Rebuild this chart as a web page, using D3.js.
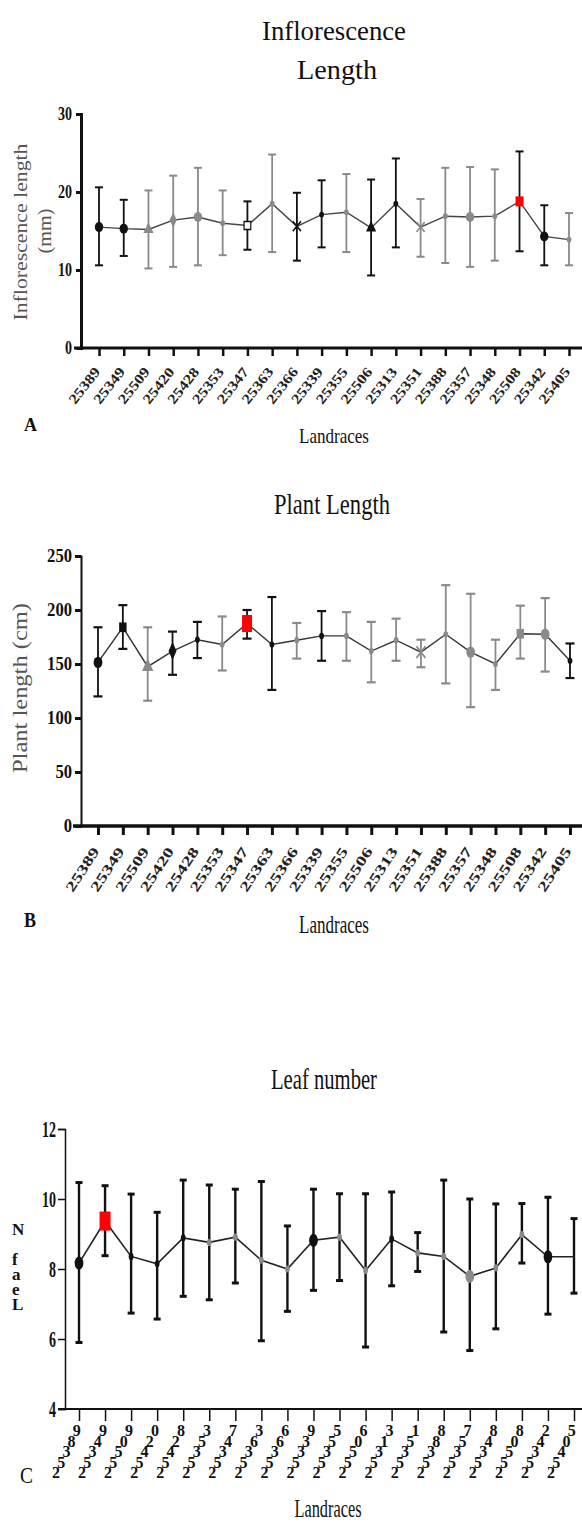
<!DOCTYPE html>
<html>
<head>
<meta charset="utf-8">
<script src="https://cdn.jsdelivr.net/npm/d3@7"></script>
<style>
  body { margin: 0; background: #fff; }
  svg { display: block; font-family: "Liberation Serif", "Times New Roman", serif; }
</style>
</head>
<body>
<div id="chart"></div>
<script>
// landraces on the x axis (same order in all three panels)
const landraces = ["25389", "25349", "25509", "25420", "25428", "25353", "25347", "25363", "25366", "25339",
  "25355", "25506", "25313", "25351", "25388", "25357", "25348", "25508", "25342", "25405"];

// A - inflorescence length (mm): mean, top and bottom of error bar
const inflMean = [15.5, 15.3, 15.2, 16.4, 16.8, 16.0, 15.7, 18.5, 15.6, 17.1, 17.4, 15.4, 18.5, 15.5, 16.9, 16.8, 16.9, 18.8, 14.3, 13.9];
const inflUpper = [20.6, 19.0, 20.2, 22.1, 23.1, 20.2, 18.8, 24.8, 19.9, 21.5, 22.3, 21.6, 24.3, 19.1, 23.1, 23.2, 22.9, 25.2, 18.3, 17.3];
const inflLower = [10.6, 11.8, 10.2, 10.4, 10.6, 11.9, 12.6, 12.3, 11.2, 12.9, 12.3, 9.3, 12.9, 11.7, 10.9, 10.4, 11.2, 12.4, 10.6, 10.6];
const inflTicks = [0, 10, 20, 30];

// B - plant length (cm)
const plantMean = [151.5, 184, 147.5, 162, 172.5, 168, 187.5, 168, 172, 176, 176, 162, 172, 161, 177.5, 161, 150, 178, 177.5, 153];
const plantUpper = [184, 204.5, 184, 180, 189, 194, 200, 212, 188, 199, 198, 189, 192, 172.5, 223, 215, 172.5, 204, 211, 169];
const plantLower = [120, 164, 116, 140, 155.5, 144, 173.5, 126, 155, 153, 153, 133, 153, 147, 132, 110, 126, 155, 143, 137];
const plantTicks = [0, 50, 100, 150, 200, 250];

// C - leaf number
const leafMean = [8.17, 9.37, 8.36, 8.15, 8.89, 8.76, 8.91, 8.25, 8.0, 8.82, 8.91, 7.96, 8.86, 8.46, 8.36, 7.79, 8.03, 8.98, 8.35, 8.35];
const leafUpper = [10.47, 10.38, 10.14, 9.62, 10.54, 10.4, 10.28, 10.5, 9.23, 10.28, 10.15, 10.15, 10.2, 9.04, 10.54, 10.0, 9.86, 9.87, 10.05, 9.44];
const leafLower = [5.9, 8.38, 6.74, 6.57, 7.22, 7.12, 7.6, 5.95, 6.79, 7.39, 7.67, 5.77, 7.52, 7.93, 6.2, 5.67, 6.29, 8.17, 6.71, 7.31];
const leafTicks = [4, 6, 8, 10, 12];

// marker look per point (style only)
const inflShapes = ["circle", "circle", "triangle", "diamond", "circle", "dot", "hsquare", "dot", "times", "dot",
  "dot", "triangle", "dot", "times", "dot", "circle", "dot", "red", "circle", "dot"];
const inflTones = ["k", "k", "g", "g", "g", "g", "k", "g", "k", "k", "g", "k", "k", "g", "g", "g", "g", "k", "k", "g"];
const plantShapes = ["circle", "square", "triangle", "diamond", "dot", "dot", "red", "dot", "dot", "dot",
  "dot", "dot", "dot", "times", "dot", "circle", "dot", "square", "circle", "dot"];
const plantTones = ["k", "k", "g", "k", "k", "g", "k", "k", "g", "k", "g", "g", "g", "g", "g", "g", "g", "g", "g", "k"];
const leafShapes = ["circle", "red", "dot", "dot", "dot", "dot", "dot", "dot", "dot", "circle",
  "dot", "dot", "dot", "dot", "dot", "circle", "dot", "dot", "circle", "none"];
const leafTones = ["k", "k", "k", "k", "k", "g", "g", "g", "g", "k", "g", "g", "k", "g", "g", "g", "g", "g", "k", "k"];

const toneColor = { k: "#111", g: "#8a8a8a" };
const W = 582, H = 1525;

const svg = d3.select("#chart").append("svg")
  .attr("width", W)
  .attr("height", H);

// text helper: font size sets the height, textLength squeezes the width (picture is stretched tall)
function label(sel, txt, o) {
  const t = sel.append("text")
    .attr("x", o.x)
    .attr("y", o.y)
    .attr("font-size", o.size)
    .attr("font-weight", o.bold ? "bold" : "normal")
    .attr("fill", o.color || "#111")
    .attr("text-anchor", o.anchor || "middle")
    .text(txt);
  if (o.len) t.attr("textLength", o.len).attr("lengthAdjust", "spacingAndGlyphs");
  if (o.rotate) t.attr("transform", `rotate(${o.rotate},${o.x},${o.y})`);
  return t;
}

// one text element whose glyphs stay upright but step along a diagonal
function stepped(sel, txt, x0, y0, dx, dy, size) {
  const chars = txt.split("");
  return sel.append("text")
    .attr("x", chars.map((c, j) => (x0 + j * dx).toFixed(1)).join(" "))
    .attr("y", chars.map((c, j) => (y0 - j * dy).toFixed(1)).join(" "))
    .attr("font-size", size)
    .attr("font-weight", "bold")
    .attr("fill", "#111")
    .text(txt);
}

function drawPanel(p) {
  const g = svg.append("g");
  const x = d3.scalePoint().domain(landraces).range(p.xRange);
  const y = d3.scaleLinear().domain(p.yDomain).range(p.yRange);

  // y axis
  const ya = g.append("g")
    .attr("transform", `translate(${p.axisX},0)`)
    .call(d3.axisLeft(y).tickValues(p.yTicks).tickSizeOuter(0).tickSize(p.yTickLen).tickPadding(p.yTickPad));
  ya.attr("font-family", null);
  ya.select(".domain").attr("stroke", "#111").attr("stroke-width", p.yAxisW);
  ya.selectAll(".tick line").attr("stroke", "#111").attr("stroke-width", p.yTickW);
  ya.selectAll(".tick text")
    .attr("font-size", p.yFont)
    .attr("font-weight", "bold")
    .attr("fill", "#111")
    .attr("textLength", (d) => String(d).length * p.digitW)
    .attr("lengthAdjust", "spacingAndGlyphs");

  // x axis
  const xa = g.append("g")
    .attr("transform", `translate(0,${p.xAxisY})`)
    .call(d3.axisBottom(x).tickSizeOuter(0).tickSize(p.xTickLen).tickFormat(() => ""));
  xa.select(".domain")
    .attr("d", `M${p.xAxisStart},0H${W}`)
    .attr("stroke", "#111")
    .attr("stroke-width", p.xAxisW);
  xa.selectAll(".tick line").attr("stroke", "#111").attr("stroke-width", p.xTickW);

  // x tick labels
  if (p.stacked) {
    landraces.forEach((lab) => {
      stepped(g, lab, x(lab) - 27, p.xAxisY + 69, 5.2, 10.5, 16);
    });
  } else {
    landraces.forEach((lab) => {
      label(g, lab, {
        x: x(lab) + 2, y: p.xAxisY + p.labelDrop,
        size: 14, bold: true, anchor: "end", len: p.labelLen,
        rotate: -p.labelAngle, color: "#222"
      });
    });
  }

  // error bars
  const bars = g.append("g");
  landraces.forEach((lab, i) => {
    const cx = x(lab);
    const col = p.barColor || toneColor[p.tones[i]];
    bars.append("line")
      .attr("x1", cx).attr("x2", cx)
      .attr("y1", y(p.upper[i])).attr("y2", y(p.lower[i]))
      .attr("stroke", col).attr("stroke-width", p.barW);
    [p.upper[i], p.lower[i]].forEach((v) => {
      bars.append("line")
        .attr("x1", cx - p.capW / 2).attr("x2", cx + p.capW / 2)
        .attr("y1", y(v)).attr("y2", y(v))
        .attr("stroke", col).attr("stroke-width", p.capH);
    });
  });

  // connecting line
  g.append("path")
    .datum(p.mean)
    .attr("fill", "none")
    .attr("stroke", p.lineColor)
    .attr("stroke-width", p.lineW)
    .attr("d", d3.line().x((d, i) => x(landraces[i])).y((d) => y(d)));

  // markers
  const symbols = {
    circle: d3.symbolCircle, triangle: d3.symbolTriangle, diamond: d3.symbolDiamond,
    square: d3.symbolSquare, hsquare: d3.symbolSquare, times: d3.symbolTimes
  };
  landraces.forEach((lab, i) => {
    const cx = x(lab), cy = y(p.mean[i]);
    const shape = p.shapes[i];
    const col = toneColor[p.tones[i]];
    if (shape === "none") return;
    if (shape === "red") {
      g.append("rect")
        .attr("x", cx - p.redW / 2).attr("y", cy - p.redH / 2)
        .attr("width", p.redW).attr("height", p.redH)
        .attr("fill", "#f00");
      return;
    }
    if (shape === "dot") {
      g.append("ellipse")
        .attr("cx", cx).attr("cy", cy)
        .attr("rx", 2.4).attr("ry", 2.4 * p.stretch)
        .attr("fill", col);
      return;
    }
    const size = shape === "circle" ? p.circleSize : p.symSize;
    const path = g.append("path")
      .attr("d", d3.symbol(symbols[shape], size)())
      .attr("transform", `translate(${cx},${cy}) scale(1,${p.stretch})`);
    if (shape === "hsquare") {
      path.attr("fill", "#fff").attr("stroke", col).attr("stroke-width", 1.2);
    } else if (shape === "times") {
      path.attr("fill", "none").attr("stroke", col).attr("stroke-width", 1.5);
    } else {
      path.attr("fill", col);
    }
  });
}

// ---------- panel A ----------
drawPanel({
  xRange: [99, 569], yDomain: [0, 30], yRange: [348, 114], yTicks: inflTicks,
  axisX: 81, yAxisW: 3, yTickLen: 5, yTickW: 3, yTickPad: 4, yFont: 18, digitW: 7,
  xAxisY: 348, xAxisStart: 74, xAxisW: 3, xTickLen: 8, xTickW: 2.5,
  labelDrop: 24, labelLen: 42, labelAngle: 52,
  mean: inflMean, upper: inflUpper, lower: inflLower, shapes: inflShapes, tones: inflTones,
  barW: 1.8, capW: 8, capH: 2, lineColor: "#444", lineW: 1.4,
  stretch: 1.2, circleSize: 55, symSize: 45, redW: 8, redH: 10
});
label(svg, "Inflorescence", { x: 334, y: 40, size: 28, len: 144 });
label(svg, "Length", { x: 337, y: 79, size: 28, len: 80 });
label(svg, "Inflorescence length", { x: 27, y: 232, size: 19, len: 177, rotate: -90, color: "#555" });
label(svg, "(mm)", { x: 51, y: 231, size: 19, len: 45, rotate: -90, color: "#555" });
label(svg, "A", { x: 24, y: 431, size: 19, bold: true, anchor: "start", len: 13 });
label(svg, "Landraces", { x: 334, y: 443, size: 21, len: 70 });

// ---------- panel B ----------
drawPanel({
  xRange: [98, 570], yDomain: [0, 250], yRange: [826, 556], yTicks: plantTicks,
  axisX: 81, yAxisW: 2, yTickLen: 6, yTickW: 3, yTickPad: 3, yFont: 18, digitW: 8.3,
  xAxisY: 826, xAxisStart: 73, xAxisW: 3.5, xTickLen: 9, xTickW: 3,
  labelDrop: 25, labelLen: 50, labelAngle: 57,
  mean: plantMean, upper: plantUpper, lower: plantLower, shapes: plantShapes, tones: plantTones,
  barW: 1.8, capW: 9, capH: 2.2, lineColor: "#333", lineW: 1.4,
  stretch: 1.3, circleSize: 60, symSize: 55, redW: 10, redH: 17
});
label(svg, "Plant Length", { x: 332, y: 514, size: 29, len: 116 });
label(svg, "Plant length (cm)", { x: 27, y: 688, size: 20, len: 170, rotate: -90, color: "#555" });
label(svg, "B", { x: 24, y: 927, size: 21, bold: true, anchor: "start", len: 12 });
label(svg, "Landraces", { x: 334, y: 933, size: 25, len: 70 });

// ---------- panel C ----------
drawPanel({
  xRange: [79, 574], yDomain: [4, 12], yRange: [1409, 1129], yTicks: leafTicks,
  axisX: 65, yAxisW: 1.5, yTickLen: 7, yTickW: 1.5, yTickPad: 2, yFont: 24, digitW: 7,
  xAxisY: 1409, xAxisStart: 58, xAxisW: 2.2, xTickLen: 12, xTickW: 1.5,
  stacked: true,
  mean: leafMean, upper: leafUpper, lower: leafLower, shapes: leafShapes, tones: leafTones,
  barColor: "#111", barW: 2.4, capW: 7, capH: 3, lineColor: "#222", lineW: 1.6,
  stretch: 1.5, circleSize: 60, symSize: 45, redW: 11, redH: 19
});
label(svg, "Leaf number", { x: 324, y: 1089, size: 30, len: 106 });
// axis title: upright glyphs stacked bottom to top
stepped(svg, "Leaf N", 12, 1310, 0, 15, 17);
label(svg, "C", { x: 20, y: 1483, size: 24, anchor: "start", len: 13 });
label(svg, "Landraces", { x: 328, y: 1517, size: 26, len: 67 });
</script>
</body>
</html>
